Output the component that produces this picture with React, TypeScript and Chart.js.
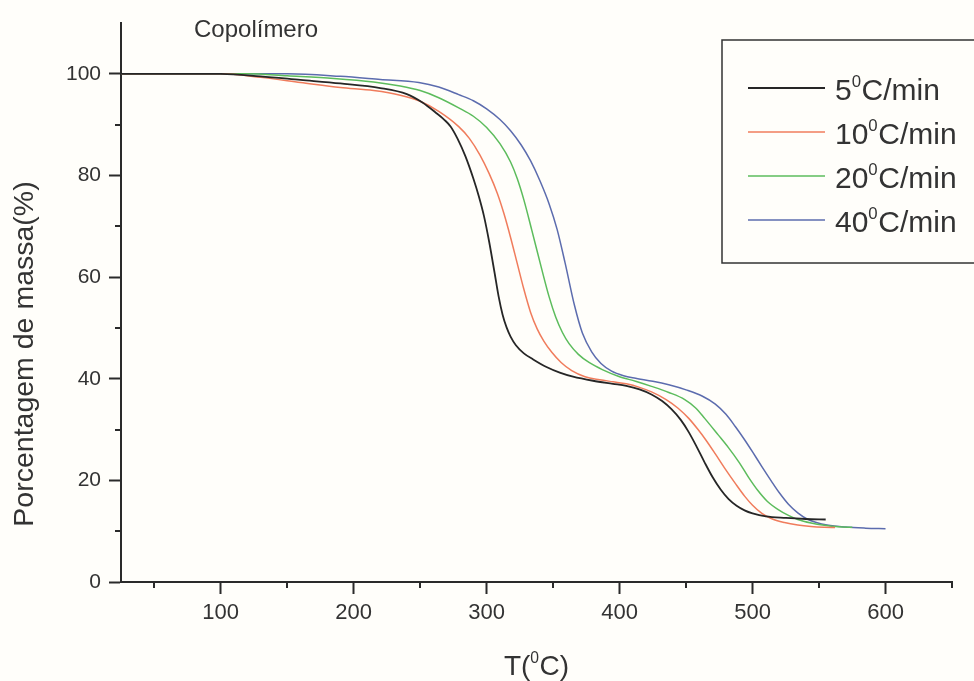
import React, { useEffect, useRef } from "react";
import { Chart, registerables } from "chart.js";

Chart.register(...registerables);

// ---- data ----
const seriesLabels = ["5⁰C/min", "10⁰C/min", "20⁰C/min", "40⁰C/min"];
const seriesColors = ["#262626", "#f07c5c", "#5cbc5c", "#5c6cae"];

const t5 = [25, 100, 130, 160, 190, 220, 240, 252, 262, 268, 273, 278, 284, 290, 294, 298, 302, 306, 309, 312, 315, 318, 322, 328, 335, 345, 355, 365, 380, 395, 405, 415, 424, 432, 439, 446, 452, 458, 464, 470, 476, 482, 488, 494, 500, 510, 525, 540, 555];
const m5 = [100, 100, 99.5, 98.8, 98.1, 97.2, 96.0, 94.3, 92.3, 91.0, 89.6, 87.3, 83.8, 79.4, 76.0, 72.0, 66.8, 60.8, 56.2, 52.6, 50.1, 48.3, 46.6, 45.0, 43.8, 42.3, 41.2, 40.4, 39.6, 39.0, 38.6, 37.9, 36.9, 35.6, 34.0, 31.9, 29.5, 26.6, 23.5, 20.6, 18.2, 16.3, 15.0, 14.1, 13.5, 12.9, 12.6, 12.4, 12.3];

const t10 = [25, 100, 130, 160, 190, 215, 235, 250, 264, 279, 287, 295, 302, 308, 313, 318, 323, 328, 333, 338, 343, 349, 356, 364, 374, 385, 395, 405, 415, 424, 435, 444, 452, 459, 465, 472, 479, 487, 494, 500, 507, 514, 524, 534, 544, 554, 562];
const m10 = [100, 100, 99.3, 98.3, 97.3, 96.7, 95.8, 94.6, 92.6, 89.6, 87.3, 84.0, 80.3, 76.5, 72.5, 67.8, 62.7, 57.6, 53.1, 49.8, 47.4, 45.2, 43.2, 41.6, 40.4, 39.8, 39.4, 39.0, 38.3, 37.4, 35.9, 34.2, 32.2, 30.0, 27.9, 25.2, 22.4, 19.4, 16.9, 15.1, 13.5, 12.5, 11.7, 11.2, 10.9, 10.75, 10.7];

const t20 = [25, 120, 150, 185, 215, 235, 250, 264, 279, 290, 300, 310, 318, 323, 328, 334, 341, 347, 352, 357, 362, 369, 377, 387, 399, 412, 424, 437, 449, 457, 464, 474, 482, 490, 497, 504, 511, 519, 527, 534, 544, 554, 565, 575];
const m20 = [100, 100, 99.6, 99.1, 98.4, 97.6, 96.7, 95.3, 93.3, 91.65, 89.45, 86.25, 82.65, 79.4, 75.2, 69.2, 62, 56.1, 52.1, 49.1, 46.9, 44.8, 43.2, 41.8, 40.5, 39.5, 38.5, 37.3, 35.9, 34.3, 32.2, 29.0, 26.4, 23.5, 20.6, 18.0, 15.9, 14.3, 13.1, 12.3, 11.6, 11.15, 10.85, 10.75];

const t40 = [25, 150, 190, 220, 249, 264, 279, 290, 300, 310, 318, 326, 333, 340, 347, 353, 359, 366, 372, 379, 386, 394, 403, 412, 425, 437, 450, 462, 472, 480, 487, 494, 500, 507, 514, 520, 527, 534, 541, 548, 556, 570, 585, 600];
const m40 = [100, 100, 99.5, 98.9, 98.3, 97.4, 95.9, 94.7, 93.1, 91.0, 88.8, 86.0, 82.9, 79.0, 74.4, 69.4, 62.8, 54.5, 49.0, 45.3, 43.0, 41.5, 40.6, 40.1, 39.5, 38.8, 37.8, 36.6, 35.0, 33.0, 30.6, 28.0, 25.6, 22.7, 19.9, 17.6, 15.3, 13.6, 12.4, 11.7, 11.2, 10.8, 10.6, 10.5];

const xMajorTicks = [100, 200, 300, 400, 500, 600];
const xMinorTicks = [50, 150, 250, 350, 450, 550, 650];
const yMajorTicks = [0, 20, 40, 60, 80, 100];
const yMinorTicks = [10, 30, 50, 70, 90];

const chartTitle = "Copolímero";
const xTitle = "T(⁰C)";
const yTitle = "Porcentagem de massa(%)";

const FONT = '"Liberation Sans", Arial, sans-serif';
const AXIS_COLOR = "#2a2a2a";
const TEXT_COLOR = "#333333";

// draw text where "⁰" is rendered as a raised small "0"
function drawRich(ctx: CanvasRenderingContext2D, text: string, x: number, y: number, size: number, align: "left" | "center") {
  const parts = text.split("⁰");
  const supSize = size * 0.56;
  ctx.textBaseline = "alphabetic";
  ctx.textAlign = "left";
  const widths: number[] = [];
  let total = 0;
  parts.forEach((p, i) => {
    ctx.font = `${size}px ${FONT}`;
    const w = ctx.measureText(p).width;
    widths.push(w);
    total += w;
    if (i < parts.length - 1) {
      ctx.font = `${supSize}px ${FONT}`;
      total += ctx.measureText("0").width + size * 0.02;
    }
  });
  let cx = align === "center" ? x - total / 2 : x;
  parts.forEach((p, i) => {
    ctx.font = `${size}px ${FONT}`;
    ctx.fillText(p, cx, y);
    cx += widths[i];
    if (i < parts.length - 1) {
      ctx.font = `${supSize}px ${FONT}`;
      ctx.fillText("0", cx, y - size * 0.44);
      cx += ctx.measureText("0").width + size * 0.02;
    }
  });
}

const decorPlugin = {
  id: "decor",
  beforeDraw(chart: any) {
    const ctx = chart.ctx as CanvasRenderingContext2D;
    ctx.save();
    ctx.fillStyle = "#fffefa";
    ctx.fillRect(0, 0, chart.width, chart.height);
    ctx.restore();
  },
  afterDraw(chart: any) {
    const ctx = chart.ctx as CanvasRenderingContext2D;
    const xs = chart.scales.x;
    const ys = chart.scales.y;
    const area = chart.chartArea;
    ctx.save();
    // minor ticks
    ctx.strokeStyle = AXIS_COLOR;
    ctx.lineWidth = 2;
    ctx.beginPath();
    xMinorTicks.forEach((v) => {
      const px = Math.round(xs.getPixelForValue(v));
      ctx.moveTo(px, area.bottom);
      ctx.lineTo(px, area.bottom + 6);
    });
    yMinorTicks.forEach((v) => {
      const py = Math.round(ys.getPixelForValue(v));
      ctx.moveTo(area.left, py);
      ctx.lineTo(area.left - 6, py);
    });
    ctx.stroke();

    ctx.fillStyle = TEXT_COLOR;
    // chart title
    ctx.font = `24px ${FONT}`;
    ctx.textAlign = "left";
    ctx.textBaseline = "alphabetic";
    ctx.fillText(chartTitle, 194, 37);

    // x title
    drawRich(ctx, xTitle, (area.left + area.right) / 2, 675, 28, "center");

    // y title
    ctx.save();
    ctx.translate(25, 354);
    ctx.rotate(-Math.PI / 2);
    ctx.font = `28.5px ${FONT}`;
    ctx.textAlign = "center";
    ctx.textBaseline = "middle";
    ctx.fillText(yTitle, 0, 0);
    ctx.restore();

    // legend
    ctx.strokeStyle = "#333333";
    ctx.lineWidth = 1.5;
    ctx.strokeRect(722, 40, 270, 223);
    const rowY = [88, 132, 176, 220];
    chart.data.datasets.forEach((ds: any, i: number) => {
      const y = rowY[i];
      ctx.strokeStyle = ds.borderColor;
      ctx.lineWidth = i === 0 ? 1.8 : 1.5;
      ctx.beginPath();
      ctx.moveTo(748, y);
      ctx.lineTo(825, y);
      ctx.stroke();
      ctx.fillStyle = TEXT_COLOR;
      drawRich(ctx, ds.label, 835, y + 12, 30, "left");
    });
    ctx.restore();
  },
};

function zip(t: number[], m: number[]) {
  return t.map((x, i) => ({ x, y: m[i] }));
}

export default function App() {
  const ref = useRef<HTMLCanvasElement | null>(null);
  useEffect(() => {
    if (!ref.current) return;
    const series = [zip(t5, m5), zip(t10, m10), zip(t20, m20), zip(t40, m40)];
    const chart = new Chart(ref.current, {
      type: "line",
      data: {
        datasets: series.map((d, i) => ({
          label: seriesLabels[i],
          data: d,
          borderColor: seriesColors[i],
          backgroundColor: seriesColors[i],
          borderWidth: i === 0 ? 1.8 : 1.5,
          pointRadius: 0,
          cubicInterpolationMode: "monotone" as const,
          fill: false,
        })),
      },
      options: {
        animation: false,
        responsive: false,
        devicePixelRatio: 1,
        layout: { padding: { top: 23, right: 22, left: 0, bottom: 0 } },
        plugins: {
          legend: { display: false },
          title: { display: false },
          tooltip: { enabled: false },
        },
        scales: {
          x: {
            type: "linear",
            min: 25,
            max: 650,
            afterFit: (s: any) => {
              s.height = 99;
            },
            afterBuildTicks: (s: any) => {
              s.ticks = xMajorTicks.map((v) => ({ value: v }));
            },
            grid: {
              display: true,
              drawOnChartArea: false,
              drawTicks: true,
              tickLength: 12,
              tickColor: AXIS_COLOR,
              tickWidth: 2,
            },
            border: { display: true, color: AXIS_COLOR, width: 2 },
            ticks: {
              autoSkip: false,
              maxRotation: 0,
              padding: 6,
              color: TEXT_COLOR,
              font: { family: FONT, size: 22 },
            },
          },
          y: {
            type: "linear",
            min: 0,
            max: 110,
            afterFit: (s: any) => {
              s.width = 121;
            },
            afterBuildTicks: (s: any) => {
              s.ticks = yMajorTicks.map((v) => ({ value: v }));
            },
            grid: {
              display: true,
              drawOnChartArea: false,
              drawTicks: true,
              tickLength: 12,
              tickColor: AXIS_COLOR,
              tickWidth: 2,
            },
            border: { display: true, color: AXIS_COLOR, width: 2 },
            ticks: {
              autoSkip: false,
              padding: 8,
              color: TEXT_COLOR,
              font: { family: FONT, size: 21 },
            },
          },
        },
      },
      plugins: [decorPlugin],
    });
    return () => chart.destroy();
  }, []);
  return (
    <div style={{ position: "fixed", left: 0, top: 0, width: 974, height: 681 }}>
      <canvas ref={ref} width={974} height={681} style={{ display: "block" }} />
    </div>
  );
}
